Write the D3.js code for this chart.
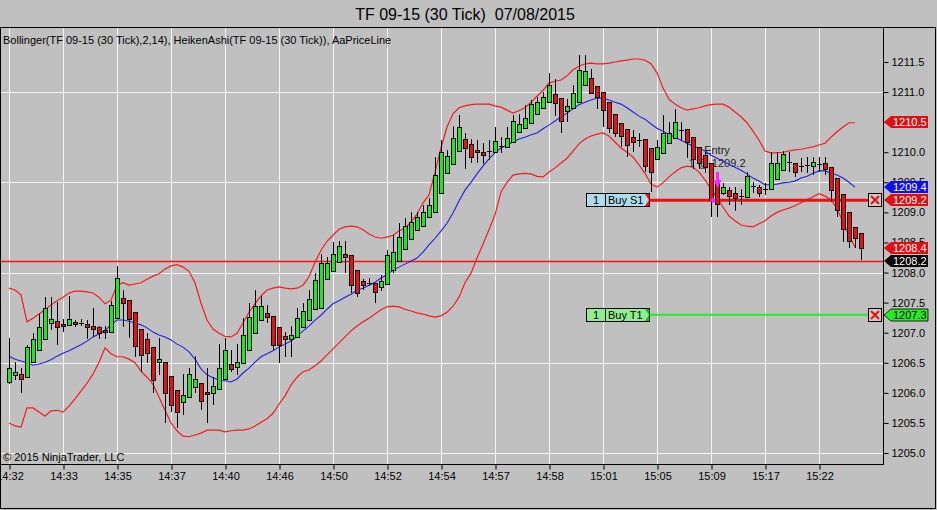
<!DOCTYPE html>
<html><head><meta charset="utf-8">
<script src="https://cdn.jsdelivr.net/npm/d3@7"></script>
<style>html,body{margin:0;padding:0;background:#c0c0c0;overflow:hidden}svg{display:block;font-family:"Liberation Sans",Arial,sans-serif}</style>
</head><body><svg id="c" width="937" height="510"></svg>
<script>
const chartTitle = "TF 09-15 (30 Tick)  07/08/2015";
const legendText = "Bollinger(TF 09-15 (30 Tick),2,14), HeikenAshi(TF 09-15 (30 Tick)), AaPriceLine";
const copyright = "\u00a9 2015 NinjaTrader, LLC";
const timeTickBars = [0,9,18,27,36,45,54,63,72,81,90,99,108,117,126,135];
const timeLabels = ["14:32","14:33","14:35","14:37","14:40","14:46","14:50","14:52","14:54","14:57","14:58","15:01","15:05","15:09","15:17","15:22"];
const priceTicks = [1205.0,1205.5,1206.0,1206.5,1207.0,1207.5,1208.0,1208.5,1209.0,1209.5,1210.0,1210.5,1211.0,1211.5];
const gridPrices = [1205.0,1206.5,1208.0,1209.5,1211.0];

const haOpen = [1206.18,1206.30,1206.31,1206.26,1206.51,1206.71,1206.89,1207.16,1207.19,1207.14,
1207.13,1207.18,1207.16,1207.14,1207.11,1207.09,1207.04,1207.01,1207.24,1207.58,
1207.54,1207.34,1207.06,1206.89,1206.76,1206.51,1206.51,1206.28,1206.05,1205.85,
1205.93,1206.10,1206.16,1206.01,1206.00,1206.06,1206.23,1206.48,1206.43,1206.50,
1206.71,1206.99,1207.21,1207.33,1207.28,1207.09,1206.94,1206.89,1206.93,1207.09,
1207.21,1207.39,1207.41,1207.89,1208.02,1208.17,1208.31,1208.29,1208.04,1207.86,
1207.83,1207.83,1207.76,1207.81,1208.04,1208.19,1208.39,1208.56,1208.71,1208.77,
1208.92,1209.00,1209.32,1209.65,1209.80,1210.02,1210.22,1210.14,1210.04,1210.00,
1210.02,1210.00,1210.10,1210.09,1210.17,1210.34,1210.40,1210.49,1210.64,1210.74,
1210.83,1210.97,1210.90,1210.69,1210.74,1210.83,1211.12,1211.23,1211.10,1211.00,
1210.83,1210.64,1210.49,1210.39,1210.25,1210.20,1210.22,1210.07,1209.89,1209.99,
1210.15,1210.24,1210.37,1210.39,1210.25,1210.09,1209.95,1209.82,1209.50,1209.32,
1209.37,1209.32,1209.27,1209.26,1209.44,1209.42,1209.39,1209.39,1209.55,1209.70,
1209.84,1209.82,1209.77,1209.79,1209.77,1209.80,1209.82,1209.75,1209.57,1209.31,
1209.00,1208.76,1208.66];
const haHigh = [1206.91,1206.51,1206.41,1206.80,1206.99,1207.31,1207.59,1207.59,1207.51,1207.23,
1207.61,1207.21,1207.23,1207.21,1207.41,1207.11,1207.11,1207.53,1208.11,1207.71,
1207.54,1207.34,1207.06,1206.99,1206.76,1206.91,1206.51,1206.28,1206.05,1206.31,
1206.41,1206.61,1206.16,1206.41,1206.26,1206.81,1206.91,1206.71,1206.81,1207.24,
1207.49,1207.71,1207.61,1207.46,1207.28,1207.09,1207.01,1207.11,1207.41,1207.49,
1207.71,1207.99,1208.31,1208.26,1208.51,1208.52,1208.52,1208.29,1208.04,1207.89,
1207.91,1207.83,1207.96,1208.37,1208.62,1208.82,1208.91,1209.00,1209.00,1209.12,
1209.24,1209.92,1210.20,1210.04,1210.44,1210.62,1210.32,1210.22,1210.20,1210.15,
1210.20,1210.42,1210.25,1210.42,1210.62,1210.64,1210.79,1210.87,1210.92,1211.00,
1211.32,1211.22,1210.90,1210.88,1211.12,1211.62,1211.62,1211.38,1211.10,1211.00,
1210.83,1210.64,1210.49,1210.39,1210.37,1210.32,1210.22,1210.07,1210.20,1210.62,
1210.50,1210.72,1210.50,1210.39,1210.25,1210.09,1210.00,1209.82,1209.65,1209.49,
1209.42,1209.42,1209.39,1209.67,1209.50,1209.46,1209.49,1210.00,1210.00,1210.02,
1210.00,1209.82,1209.90,1209.92,1209.92,1209.92,1209.92,1209.75,1209.57,1209.31,
1209.00,1208.76,1208.66];
const haLow = [1206.14,1206.21,1206.00,1206.26,1206.51,1206.71,1206.89,1207.04,1206.80,1207.01,
1207.11,1207.09,1207.11,1206.89,1206.93,1206.89,1206.89,1207.01,1207.24,1207.09,
1206.91,1206.60,1206.35,1206.50,1206.00,1206.30,1205.50,1205.68,1205.42,1205.63,
1205.93,1206.00,1205.71,1205.50,1205.80,1206.06,1206.23,1206.35,1206.30,1206.50,
1206.71,1206.99,1207.21,1207.16,1206.71,1206.50,1206.60,1206.60,1206.93,1207.09,
1207.21,1207.39,1207.41,1207.89,1208.02,1208.17,1207.99,1207.66,1207.59,1207.71,
1207.78,1207.49,1207.69,1207.81,1207.99,1208.19,1208.39,1208.56,1208.71,1208.77,
1208.92,1209.00,1209.32,1209.65,1209.80,1210.02,1209.72,1209.82,1209.82,1209.80,
1209.87,1210.00,1209.99,1210.09,1210.17,1210.34,1210.40,1210.49,1210.64,1210.74,
1210.83,1210.60,1210.32,1210.50,1210.74,1210.83,1211.12,1210.98,1210.72,1210.42,
1210.32,1210.25,1210.09,1209.92,1210.00,1210.09,1209.67,1209.34,1209.89,1209.99,
1210.15,1210.24,1210.20,1209.90,1209.72,1209.72,1209.65,1208.92,1208.92,1209.29,
1209.12,1209.02,1209.12,1209.26,1209.32,1209.26,1209.29,1209.39,1209.55,1209.70,
1209.67,1209.59,1209.67,1209.65,1209.62,1209.67,1209.62,1209.17,1208.92,1208.51,
1208.41,1208.41,1208.21];
const haClose = [1206.41,1206.35,1206.23,1206.76,1206.89,1207.09,1207.41,1207.23,1207.09,1207.11,
1207.23,1207.14,1207.16,1207.09,1207.06,1206.99,1207.01,1207.46,1207.91,1207.49,
1207.23,1206.78,1206.63,1206.66,1206.21,1206.56,1206.00,1205.80,1205.68,1205.96,
1206.31,1206.23,1205.86,1205.98,1206.11,1206.41,1206.71,1206.40,1206.51,1206.96,
1207.26,1207.44,1207.44,1207.26,1206.80,1206.80,1206.89,1206.96,1207.24,1207.36,
1207.56,1207.88,1208.16,1208.16,1208.31,1208.44,1208.26,1207.79,1207.66,1207.79,
1207.83,1207.68,1207.86,1208.29,1208.34,1208.59,1208.77,1208.84,1208.92,1209.00,
1209.12,1209.62,1210.00,1209.94,1210.24,1210.42,1210.07,1209.92,1210.00,1209.95,
1210.02,1210.19,1210.10,1210.24,1210.52,1210.47,1210.57,1210.80,1210.83,1210.92,
1211.12,1210.82,1210.52,1210.77,1210.98,1211.37,1211.35,1210.98,1210.92,1210.70,
1210.40,1210.32,1210.27,1210.12,1210.17,1210.20,1209.77,1209.67,1210.09,1210.32,
1210.32,1210.50,1210.37,1210.17,1209.89,1209.82,1209.75,1209.21,1209.14,1209.42,
1209.27,1209.24,1209.27,1209.60,1209.44,1209.32,1209.39,1209.82,1209.82,1209.97,
1209.84,1209.67,1209.77,1209.79,1209.84,1209.80,1209.72,1209.37,1209.04,1208.72,
1208.52,1208.57,1208.41];

const bbUpper = [1207.74,1207.71,1207.63,1207.18,1207.24,1207.31,1207.38,1207.46,1207.53,1207.59,
1207.66,1207.69,1207.69,1207.68,1207.66,1207.59,1207.48,1207.54,1207.79,1207.83,
1207.79,1207.81,1207.83,1207.89,1207.94,1207.98,1208.06,1208.11,1208.13,1208.09,
1208.02,1207.83,1207.49,1207.21,1207.06,1206.99,1206.94,1206.93,1206.99,1207.16,
1207.34,1207.48,1207.61,1207.71,1207.74,1207.76,1207.74,1207.73,1207.74,1207.79,
1207.93,1208.17,1208.37,1208.52,1208.62,1208.72,1208.76,1208.77,1208.76,1208.71,
1208.64,1208.59,1208.57,1208.59,1208.62,1208.69,1208.74,1208.84,1208.97,1209.16,
1209.29,1209.67,1210.07,1210.42,1210.64,1210.74,1210.77,1210.79,1210.80,1210.80,
1210.80,1210.77,1210.75,1210.70,1210.65,1210.69,1210.74,1210.83,1210.93,1211.03,
1211.15,1211.18,1211.20,1211.27,1211.37,1211.43,1211.47,1211.48,1211.47,1211.47,
1211.48,1211.50,1211.52,1211.53,1211.55,1211.55,1211.53,1211.47,1211.32,1211.07,
1210.88,1210.80,1210.74,1210.70,1210.72,1210.74,1210.77,1210.79,1210.80,1210.80,
1210.75,1210.67,1210.59,1210.49,1210.35,1210.20,1210.02,1209.99,1209.99,1210.00,
1210.02,1210.04,1210.05,1210.07,1210.09,1210.12,1210.15,1210.25,1210.34,1210.42,
1210.49,1210.49];
const bbMiddle = [1206.61,1206.56,1206.53,1206.50,1206.46,1206.48,1206.51,1206.55,1206.61,1206.66,
1206.70,1206.75,1206.80,1206.86,1206.93,1206.98,1207.04,1207.13,1207.21,1207.21,
1207.19,1207.16,1207.13,1207.08,1207.01,1206.96,1206.93,1206.88,1206.81,1206.76,
1206.68,1206.56,1206.40,1206.30,1206.25,1206.21,1206.20,1206.18,1206.23,1206.33,
1206.41,1206.51,1206.60,1206.65,1206.70,1206.76,1206.81,1206.86,1206.94,1207.03,
1207.11,1207.21,1207.29,1207.39,1207.48,1207.53,1207.59,1207.64,1207.71,1207.74,
1207.79,1207.84,1207.91,1207.96,1208.04,1208.09,1208.14,1208.19,1208.24,1208.34,
1208.46,1208.57,1208.69,1208.82,1208.99,1209.19,1209.37,1209.50,1209.64,1209.77,
1209.89,1209.99,1210.07,1210.12,1210.17,1210.22,1210.25,1210.29,1210.32,1210.39,
1210.45,1210.52,1210.59,1210.65,1210.72,1210.79,1210.83,1210.87,1210.90,1210.90,
1210.87,1210.83,1210.80,1210.74,1210.67,1210.60,1210.55,1210.47,1210.40,1210.35,
1210.30,1210.25,1210.20,1210.15,1210.10,1210.07,1210.02,1209.95,1209.90,1209.85,
1209.80,1209.75,1209.70,1209.64,1209.57,1209.52,1209.46,1209.46,1209.47,1209.49,
1209.50,1209.52,1209.57,1209.60,1209.65,1209.69,1209.69,1209.65,1209.62,1209.57,
1209.50,1209.42];
const bbLower = [1205.50,1205.45,1205.43,1205.75,1205.75,1205.68,1205.61,1205.70,1205.71,1205.68,
1205.78,1205.90,1206.03,1206.16,1206.31,1206.51,1206.75,1206.65,1206.60,1206.60,
1206.56,1206.50,1206.36,1206.26,1206.14,1205.93,1205.71,1205.50,1205.37,1205.28,
1205.27,1205.30,1205.33,1205.38,1205.38,1205.38,1205.35,1205.37,1205.38,1205.38,
1205.40,1205.45,1205.51,1205.57,1205.66,1205.81,1205.95,1206.13,1206.26,1206.35,
1206.38,1206.45,1206.53,1206.63,1206.73,1206.83,1206.93,1207.03,1207.11,1207.18,
1207.24,1207.31,1207.38,1207.43,1207.44,1207.43,1207.39,1207.36,1207.33,1207.31,
1207.28,1207.26,1207.28,1207.34,1207.44,1207.59,1207.83,1207.99,1208.24,1208.47,
1208.71,1208.96,1209.34,1209.50,1209.62,1209.64,1209.65,1209.64,1209.60,1209.59,
1209.67,1209.74,1209.82,1209.90,1210.02,1210.14,1210.22,1210.27,1210.30,1210.32,
1210.27,1210.17,1210.07,1210.00,1209.92,1209.79,1209.65,1209.47,1209.42,1209.49,
1209.59,1209.67,1209.74,1209.77,1209.75,1209.67,1209.54,1209.39,1209.24,1209.09,
1208.94,1208.86,1208.79,1208.77,1208.76,1208.81,1208.86,1208.94,1209.00,1209.04,
1209.07,1209.11,1209.16,1209.21,1209.26,1209.31,1209.27,1209.21,1209.06,1208.84,
1208.62,1208.42];

const lastPrice = 1208.2;
const stopPrice = 1209.2;   // Buy S1
const targetPrice = 1207.3; // Buy T1
const entryBar = 118;
const entryText = ["Entry", "1 @ 1209.2"];
const flagValues = [1210.5, 1209.4, 1209.2, 1208.4, 1208.2, 1207.3];
const flagColors = ["#e01010", "#1010ee", "#e01010", "#e01010", "#000000", "#22ee22"];
const flagText = ["#ffffff", "#ffffff", "#ffffff", "#ffffff", "#ffffff", "#000000"];

const svg = d3.select("#c");
const W = 937, H = 510;
const plotL = 1, plotR = 883, plotT = 27, plotB = 464;

const x = d3.scaleLinear().domain([0, 142]).range([9, 861]);
const y = d3.scaleLinear().domain([1205.0, 1211.5]).range([453, 62]);

svg.append("rect").attr("width", W).attr("height", H).attr("fill", "#c0c0c0");

const defs = svg.append("defs");
defs.append("clipPath").attr("id", "plotclip")
  .append("rect").attr("x", plotL).attr("y", plotT).attr("width", plotR - plotL).attr("height", plotB - plotT);
defs.append("clipPath").attr("id", "xclip")
  .append("rect").attr("x", plotL).attr("y", plotB).attr("width", plotR - plotL).attr("height", 40);

// title
svg.append("text").attr("x", 465).attr("y", 20).attr("text-anchor", "middle")
  .style("white-space", "pre").attr("font-size", 16).attr("fill", "#000").text(chartTitle);

const plot = svg.append("g").attr("clip-path", "url(#plotclip)");

// grid
plot.selectAll("line.vg").data(timeTickBars).join("line")
  .attr("x1", d => Math.round(x(d)) + 0.5).attr("x2", d => Math.round(x(d)) + 0.5)
  .attr("y1", plotT).attr("y2", plotB).attr("stroke", "#f4f4f4").attr("stroke-width", 1);
plot.selectAll("line.hg").data(gridPrices).join("line")
  .attr("x1", plotL).attr("x2", plotR)
  .attr("y1", d => Math.round(y(d)) + 0.5).attr("y2", d => Math.round(y(d)) + 0.5)
  .attr("stroke", "#f4f4f4").attr("stroke-width", 1);

// legend + copyright
svg.append("text").attr("x", 3).attr("y", 44).attr("font-size", 11).attr("fill", "#000").text(legendText);
svg.append("text").attr("x", 3).attr("y", 461).attr("font-size", 11).attr("fill", "#000").text(copyright);

// price line
plot.append("line").attr("x1", plotL).attr("x2", plotR)
  .attr("y1", Math.round(y(lastPrice)) + 0.5).attr("y2", Math.round(y(lastPrice)) + 0.5)
  .attr("stroke", "#ff1010").attr("stroke-width", 1.6);

// entry text (behind candles)
plot.append("text").attr("x", x(entryBar)).attr("y", 154).attr("text-anchor", "middle")
  .attr("font-size", 11).attr("fill", "#222").text(entryText[0]);
plot.append("text").attr("x", x(entryBar)).attr("y", 167).attr("text-anchor", "middle")
  .attr("font-size", 11).attr("fill", "#222").text(entryText[1]);

// bollinger
const bbLine = d3.line().x((d, i) => x(i)).y(d => y(d)).curve(d3.curveLinear);
plot.append("path").attr("d", bbLine(bbUpper)).attr("fill", "none").attr("stroke", "#f41c1c").attr("stroke-width", 1.2);
plot.append("path").attr("d", bbLine(bbLower)).attr("fill", "none").attr("stroke", "#f41c1c").attr("stroke-width", 1.2);
plot.append("path").attr("d", bbLine(bbMiddle)).attr("fill", "none").attr("stroke", "#2020e6").attr("stroke-width", 1.1);

// stop / target lines
plot.append("line").attr("x1", 650).attr("x2", 869).attr("y1", y(stopPrice)).attr("y2", y(stopPrice))
  .attr("stroke", "#ee1010").attr("stroke-width", 3);
plot.append("line").attr("x1", 650).attr("x2", 869).attr("y1", y(targetPrice)).attr("y2", y(targetPrice))
  .attr("stroke", "#22ee22").attr("stroke-width", 2);

// candles
const bars = haOpen.map((o, i) => ({i, o, h: haHigh[i], l: haLow[i], c: haClose[i]}));
const cg = plot.append("g").attr("shape-rendering", "crispEdges");
cg.selectAll("line.wick").data(bars).join("line")
  .attr("x1", d => Math.round(x(d.i)) + 0.5).attr("x2", d => Math.round(x(d.i)) + 0.5)
  .attr("y1", d => Math.round(y(d.h))).attr("y2", d => Math.round(y(d.l)))
  .attr("stroke", "#000").attr("stroke-width", 1);
cg.selectAll("rect.body").data(bars.filter(d => Math.abs(y(d.o) - y(d.c)) >= 1.5)).join("rect")
  .attr("x", d => Math.round(x(d.i)) - 1.5)
  .attr("width", 4)
  .attr("y", d => Math.round(y(Math.max(d.o, d.c))) + 0.5)
  .attr("height", d => Math.max(1, Math.round(y(Math.min(d.o, d.c))) - Math.round(y(Math.max(d.o, d.c)))))
  .attr("fill", d => d.c > d.o ? "#22e622" : "#e01414")
  .attr("stroke", "#000").attr("stroke-width", 1);
cg.selectAll("line.doji").data(bars.filter(d => Math.abs(y(d.o) - y(d.c)) < 1.5)).join("line")
  .attr("x1", d => Math.round(x(d.i)) - 2).attr("x2", d => Math.round(x(d.i)) + 3)
  .attr("y1", d => Math.round(y(d.c)) + 0.5).attr("y2", d => Math.round(y(d.c)) + 0.5)
  .attr("stroke", "#000").attr("stroke-width", 1);

// entry arrow (magenta)
const ax = x(entryBar) + 0.5;
plot.append("rect").attr("x", ax - 1.5).attr("y", 172).attr("width", 3).attr("height", 9).attr("fill", "#ff22ff");
plot.append("path").attr("d", `M${ax - 4},180 L${ax + 4},180 L${ax},188 Z`).attr("fill", "#ff22ff");
plot.append("path").attr("d", `M${x(entryBar - 1) + 2},${y(stopPrice) - 3} L${x(entryBar - 1) + 5},${y(stopPrice)} L${x(entryBar - 1) + 2},${y(stopPrice) + 3} L${x(entryBar - 1) - 1},${y(stopPrice)} Z`).attr("fill", "#ff22ff");

// order boxes
function orderBox(price, fill, tri, label) {
  const yc = Math.round(y(price));
  const g = svg.append("g");
  g.append("rect").attr("x", 586.5).attr("y", yc - 6.5).attr("width", 63).attr("height", 13)
    .attr("fill", fill).attr("stroke", "#000").attr("stroke-width", 1);
  g.append("line").attr("x1", 605.5).attr("x2", 605.5).attr("y1", yc - 6.5).attr("y2", yc + 6.5).attr("stroke", "#000");
  g.append("path").attr("d", `M645,${yc - 6} L649.5,${yc - 6} L649.5,${yc + 6} L645,${yc + 6} L649,${yc} Z`).attr("fill", tri);
  g.append("text").attr("x", 596).attr("y", yc + 4).attr("text-anchor", "middle").attr("font-size", 11).attr("fill", "#000").text("1");
  g.append("text").attr("x", 608).attr("y", yc + 4).attr("font-size", 11).attr("fill", "#000").text(label);
  g.append("rect").attr("x", 868.5).attr("y", yc - 6.5).attr("width", 13).attr("height", 13)
    .attr("fill", "#d8c8c8").attr("stroke", "#000").attr("stroke-width", 1);
  g.append("path").attr("d", `M871,${yc - 4} L879,${yc + 4} M879,${yc - 4} L871,${yc + 4}`)
    .attr("stroke", "#ee1010").attr("stroke-width", 2);
}
orderBox(stopPrice, "#b0dcec", "#ee1010", "Buy S1");
orderBox(targetPrice, "#90ee90", "#11bb11", "Buy T1");

// frame
svg.append("rect").attr("x", 0.5).attr("y", 27.5).attr("width", 935).attr("height", 481)
  .attr("fill", "none").attr("stroke", "#000").attr("stroke-width", 1);
svg.append("line").attr("x1", plotR + 0.5).attr("x2", plotR + 0.5).attr("y1", 27).attr("y2", plotB + 0.5).attr("stroke", "#000");
svg.append("line").attr("x1", 0).attr("x2", plotR + 1).attr("y1", plotB + 0.5).attr("y2", plotB + 0.5).attr("stroke", "#000");

// axes
const yAxis = d3.axisRight(y).tickValues(priceTicks).tickFormat(d3.format(".1f")).tickSize(5).tickPadding(3);
const ya = svg.append("g").attr("transform", `translate(${plotR + 0.5},0)`).call(yAxis);
ya.select(".domain").remove();
ya.selectAll("text").attr("font-size", 11).attr("font-family", "Liberation Sans, Arial, sans-serif").attr("fill", "#000");
ya.selectAll("line").attr("stroke", "#000");

const xAxis = d3.axisBottom(x).tickValues(timeTickBars).tickFormat((d, i) => timeLabels[i]).tickSize(5).tickPadding(3);
const xwrap = svg.append("g").attr("clip-path", "url(#xclip)");
const xa = xwrap.append("g").attr("transform", `translate(0.5,${plotB + 0.5})`).call(xAxis);
xa.select(".domain").remove();
xa.selectAll("text").attr("font-size", 11).attr("font-family", "Liberation Sans, Arial, sans-serif").attr("fill", "#000");
xa.selectAll("line").attr("stroke", "#000");

// right-axis price flags
const fg = svg.append("g");
flagValues.forEach((v, k) => {
  let yc = Math.round(y(v));
  if (k === 1) yc -= 1;
  fg.append("path").attr("d", `M884,${yc} L891,${yc - 6} L928,${yc - 6} L928,${yc + 6} L891,${yc + 6} Z`)
    .attr("fill", flagColors[k]).attr("stroke", k === 5 ? "#000" : "none").attr("stroke-width", 0.8);
  fg.append("text").attr("x", 893).attr("y", yc + 4).attr("font-size", 11).attr("fill", flagText[k]).text(v.toFixed(1));
});
</script></body></html>
